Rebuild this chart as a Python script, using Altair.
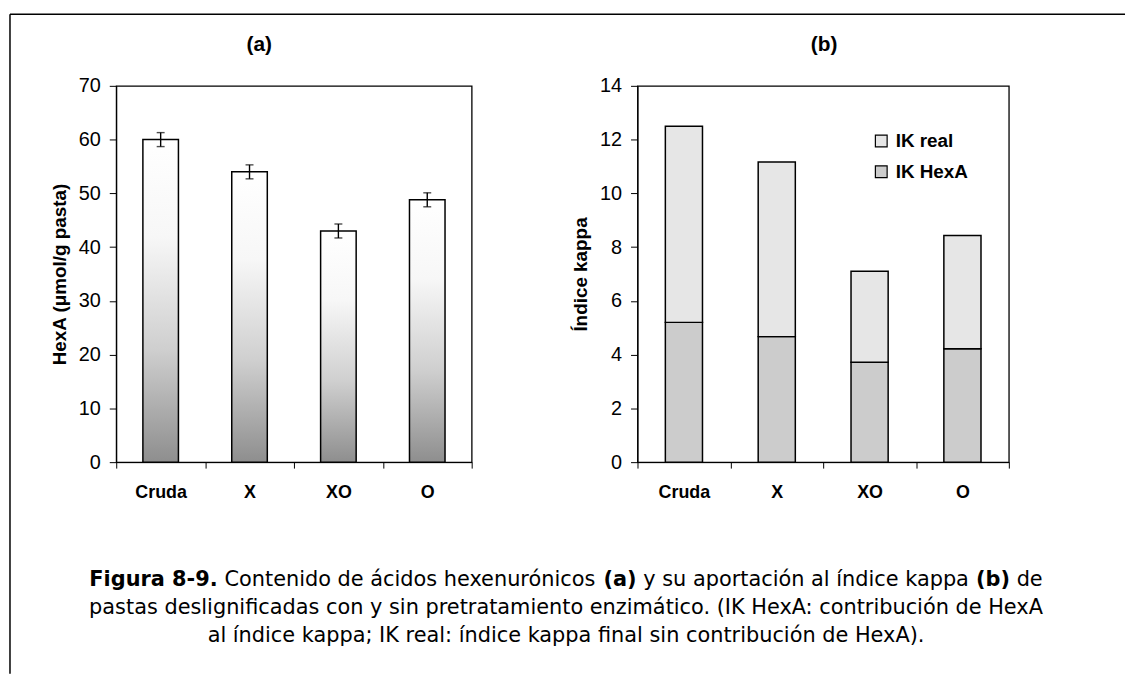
import altair as alt
import pandas as pd

FONT = "Liberation Sans"
CAP_FONT = "DejaVu Sans"

categories = ["Cruda", "X", "XO", "O"]
hexa_values = [60.0, 54.0, 43.0, 48.8]
hexa_err = [1.3, 1.3, 1.3, 1.3]

ik_hexa = [5.20, 4.67, 3.72, 4.22]
ik_total = [12.50, 11.17, 7.10, 8.43]
ik_real = [round(t - h, 2) for t, h in zip(ik_total, ik_hexa)]

series_names = ["IK real", "IK HexA"]
series_colors = ["#e6e6e6", "#cccccc"]

caption_line1 = [
    ("Figura 8-9.", "bold"),
    (" Contenido de ácidos hexenurónicos ", "normal"),
    ("(a)", "bold"),
    (" y su aportación al índice kappa ", "normal"),
    ("(b)", "bold"),
    (" de", "normal"),
]
caption_line2 = "pastas deslignificadas con y sin pretratamiento enzimático. (IK HexA: contribución de HexA"
caption_line3 = "al índice kappa; IK real: índice kappa final sin contribución de HexA)."

# ---- data tables
df_a = pd.DataFrame({
    "cat": categories,
    "val": hexa_values,
    "lo": [v - e for v, e in zip(hexa_values, hexa_err)],
    "hi": [v + e for v, e in zip(hexa_values, hexa_err)],
})

rows = []
for c, h, r in zip(categories, ik_hexa, ik_real):
    rows.append({"cat": c, "serie": "IK HexA", "val": h, "ord": 0})
    rows.append({"cat": c, "serie": "IK real", "val": r, "ord": 1})
df_b = pd.DataFrame(rows)
one = pd.DataFrame({"k": [0]})

# ---- DejaVu Sans advance widths (1/2048 em) for laying out the mixed-weight caption line
W_REG = {" ": 651, "C": 1430, "o": 1253, "n": 1298, "t": 803, "e": 1260, "i": 569, "d": 1300,
         "á": 1255, "c": 1126, "s": 1067, "h": 1298, "x": 1212, "u": 1298, "r": 842, "ó": 1253,
         "y": 1212, "a": 1255, "p": 1300, "l": 569, "í": 569, "k": 1186}
W_BOLD = {" ": 713, "F": 1407, "i": 702, "g": 1466, "u": 1458, "r": 1010, "a": 1382, "8": 1425,
          "-": 852, "9": 1425, ".": 780, "(": 937, ")": 937, "b": 1466}
CAP_SIZE = 21


def seg_width(txt, weight):
    table = W_BOLD if weight == "bold" else W_REG
    return sum(table.get(ch, 1250) for ch in txt) * CAP_SIZE / 2048.0


# panel geometry
WA, WB, H = 358, 374, 379
SPACING = 167
CAP_CX = 453                # caption centre, relative to panel (a) plot origin
CAP_Y = [498, 526, 554]

x_axis = alt.Axis(title=None, labelAngle=0, labelFont=FONT, labelFontWeight="bold",
                  labelFontSize=18, labelColor="black", tickBand="extent", tickSize=6,
                  tickColor="black", domainColor="black", labelPadding=16, grid=False)


def y_axis(title, values):
    return alt.Axis(title=title, values=values, labelFont=FONT, labelFontSize=20,
                    labelColor="black", tickSize=7, tickColor="black", domainColor="black",
                    labelPadding=9, grid=False, titleFont=FONT, titleFontSize=19,
                    titleFontWeight="bold", titleColor="black", titlePadding=9)


xs = alt.X("cat:N", sort=categories, scale=alt.Scale(paddingInner=0, paddingOuter=0), axis=x_axis)

grad = alt.Gradient(
    gradient="linear",
    stops=[
        alt.GradientStop(color="#ffffff", offset=0),
        alt.GradientStop(color="#f7f7f7", offset=0.3),
        alt.GradientStop(color="#cfcfcf", offset=0.65),
        alt.GradientStop(color="#8e8e8e", offset=1),
    ],
    x1=0, x2=0, y1=0, y2=1,
)

base_a = alt.Chart(df_a)
bars_a = base_a.mark_bar(width=alt.RelativeBandSize(0.40), fill=grad, stroke="black",
                         strokeWidth=1.5).encode(
    x=xs,
    y=alt.Y("val:Q", scale=alt.Scale(domain=[0, 70], nice=False),
            axis=y_axis("HexA (μmol/g pasta)", list(range(0, 71, 10)))),
)
err_rule = base_a.mark_rule(color="black", strokeWidth=1.4).encode(
    x=alt.X("cat:N", sort=categories), y="lo:Q", y2="hi:Q")
err_hi = base_a.mark_tick(color="black", size=8, thickness=1.4).encode(
    x=alt.X("cat:N", sort=categories), y="hi:Q")
err_lo = base_a.mark_tick(color="black", size=8, thickness=1.4).encode(
    x=alt.X("cat:N", sort=categories), y="lo:Q")

# outer frame (top and left edges; the rest is cut off in the reference)
frame_top = alt.Chart(one).mark_rule(color="black", strokeWidth=1.5).encode(
    x=alt.value(-107), x2=alt.value(1016), y=alt.value(-72))
frame_left = alt.Chart(one).mark_rule(color="black", strokeWidth=1.5).encode(
    x=alt.value(-107), y=alt.value(-72), y2=alt.value(592))

# panel titles
title_a = alt.Chart(one).mark_text(font=FONT, fontSize=21, fontWeight="bold", color="black",
                                   align="center", baseline="middle").encode(
    x=alt.value(144), y=alt.value(-41), text=alt.value("(a)"))
title_b = alt.Chart(one).mark_text(font=FONT, fontSize=21, fontWeight="bold", color="black",
                                   align="center", baseline="middle").encode(
    x=alt.value(188), y=alt.value(-41), text=alt.value("(b)"))

# caption
cap_layers = []
total1 = sum(seg_width(t, w) for t, w in caption_line1)
xpos = CAP_CX - total1 / 2
for txt, w in caption_line1:
    lead = txt[: len(txt) - len(txt.lstrip())]
    cap_layers.append(
        alt.Chart(one).mark_text(font=CAP_FONT, fontSize=CAP_SIZE, fontWeight=w, align="left",
                                 baseline="middle", color="black").encode(
            x=alt.value(xpos + seg_width(lead, w)), y=alt.value(CAP_Y[0]),
            text=alt.value(txt.strip())))
    xpos += seg_width(txt, w)
for line, yy in [(caption_line2, CAP_Y[1]), (caption_line3, CAP_Y[2])]:
    cap_layers.append(
        alt.Chart(one).mark_text(font=CAP_FONT, fontSize=CAP_SIZE, align="center",
                                 baseline="middle", color="black").encode(
            x=alt.value(CAP_CX), y=alt.value(yy), text=alt.value(line)))

panel_a = alt.layer(bars_a, err_rule, err_hi, err_lo, frame_top, frame_left, title_a,
                    *cap_layers).properties(width=WA, height=H)

bars_b = alt.Chart(df_b).mark_bar(width=alt.RelativeBandSize(0.40), stroke="black",
                                  strokeWidth=1.5).encode(
    x=xs,
    y=alt.Y("val:Q", stack="zero", scale=alt.Scale(domain=[0, 14], nice=False),
            axis=y_axis("Índice kappa", list(range(0, 15, 2)))),
    color=alt.Color("serie:N", scale=alt.Scale(domain=series_names, range=series_colors),
                    legend=alt.Legend(title=None, orient="none", legendX=761, legendY=46,
                                      symbolType="square", symbolSize=140,
                                      symbolStrokeColor="black", symbolStrokeWidth=1.2,
                                      symbolOpacity=1,
                                      labelFont=FONT, labelFontSize=19, labelFontWeight="bold",
                                      labelColor="black", labelOffset=5, rowPadding=11)),
    order=alt.Order("ord:Q", sort="ascending"),
)
panel_b = alt.layer(bars_b, title_b).properties(width=WB, height=H)

chart = alt.hconcat(panel_a, panel_b, spacing=SPACING, bounds="flush").properties(
    padding={"left": 0, "top": 2, "right": 0, "bottom": 0},
    background="white",
).configure_view(stroke="black", strokeWidth=1.3)

chart.save("out.html", embed_options={"renderer": "svg", "actions": False})
